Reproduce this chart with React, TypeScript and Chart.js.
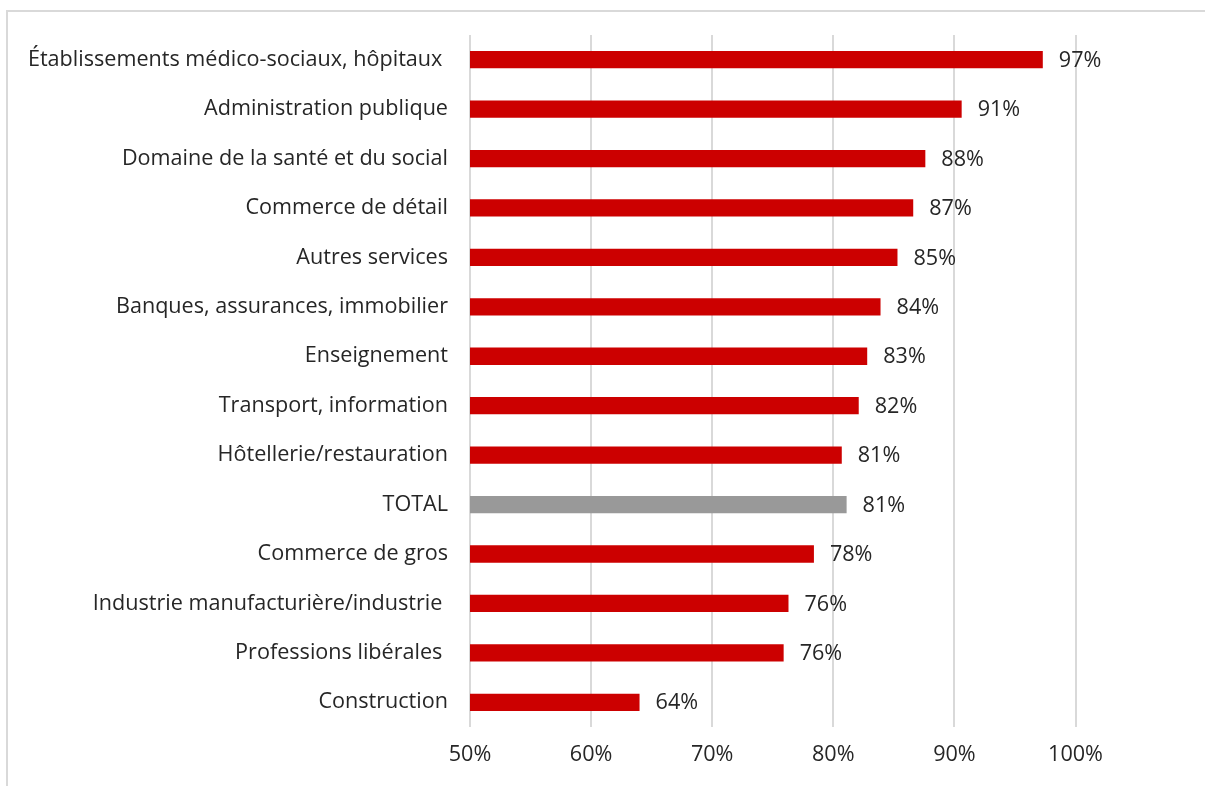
import React, { useEffect, useRef } from "react";
import { Chart, registerables } from "chart.js";

Chart.register(...registerables);

const categories = [
  "Établissements médico-sociaux, hôpitaux ",
  "Administration publique",
  "Domaine de la santé et du social",
  "Commerce de détail",
  "Autres services",
  "Banques, assurances, immobilier",
  "Enseignement",
  "Transport, information",
  "Hôtellerie/restauration",
  "TOTAL",
  "Commerce de gros",
  "Industrie manufacturière/industrie ",
  "Professions libérales ",
  "Construction",
];

const values = [97.3, 90.6, 87.6, 86.6, 85.3, 83.9, 82.8, 82.1, 80.7, 81.1, 78.4, 76.3, 75.9, 64.0];

const highlightCategory = "TOTAL";
const xMin = 50;
const xMax = 100;
const xStep = 10;

const RED = "#CC0000";
const GRAY = "#999999";
const TEXT = "#262626";
const FONT_FAMILY = "'Open Sans', 'Noto Sans', sans-serif";
const FONT_SIZE = 21.6;

const valueLabels = {
  id: "valueLabels",
  afterDatasetsDraw(chart: any) {
    const ctx = chart.ctx;
    const meta = chart.getDatasetMeta(0);
    ctx.save();
    ctx.font = `${FONT_SIZE}px ${FONT_FAMILY}`;
    ctx.fillStyle = TEXT;
    ctx.textAlign = "left";
    ctx.textBaseline = "middle";
    meta.data.forEach((bar: any, i: number) => {
      const v = chart.data.datasets[0].data[i] as number;
      ctx.fillText(`${Math.round(v)}%`, bar.x + 16, bar.y + 1);
    });
    ctx.restore();
  },
};

export default function App() {
  const ref = useRef<HTMLCanvasElement>(null);

  useEffect(() => {
    if (!ref.current) return;
    const chart = new Chart(ref.current, {
      type: "bar",
      data: {
        labels: categories,
        datasets: [
          {
            data: values,
            backgroundColor: categories.map((c) => (c === highlightCategory ? GRAY : RED)),
            borderWidth: 0,
            barPercentage: 0.35,
            categoryPercentage: 1,
          },
        ],
      },
      options: {
        indexAxis: "y",
        responsive: false,
        animation: false,
        devicePixelRatio: 1,
        layout: { padding: { left: 0, top: 31, right: 129.5, bottom: 0 } },
        plugins: {
          legend: { display: false },
          tooltip: { enabled: false },
        },
        scales: {
          x: {
            min: xMin,
            max: xMax,
            afterFit: (scale: any) => {
              scale.height = 59;
            },
            ticks: {
              stepSize: xStep,
              callback: (v: any) => `${v}%`,
              font: { family: FONT_FAMILY, size: FONT_SIZE },
              color: TEXT,
              padding: 15,
              maxRotation: 0,
            },
            grid: { color: "#d9d9d9", lineWidth: 2, drawTicks: false },
            border: { display: false },
          },
          y: {
            afterFit: (scale: any) => {
              scale.width = 470;
            },
            ticks: {
              font: { family: FONT_FAMILY, size: FONT_SIZE },
              color: TEXT,
              padding: 22,
              autoSkip: false,
            },
            grid: { display: false, drawTicks: false },
            border: { display: false },
          },
        },
      },
      plugins: [valueLabels],
    });
    return () => chart.destroy();
  }, []);

  return (
    <div style={{ position: "fixed", left: 0, top: 0, width: 1205, height: 786, overflow: "hidden", background: "#fff" }}>
      <div
        style={{
          position: "absolute",
          left: 6,
          top: 10,
          width: 1210,
          height: 800,
          borderLeft: "2px solid #d9d9d9",
          borderTop: "2px solid #d9d9d9",
        }}
      />
      <canvas
        ref={ref}
        width={1205}
        height={786}
        style={{ position: "absolute", left: 0, top: 0, width: 1205, height: 786 }}
      />
    </div>
  );
}
